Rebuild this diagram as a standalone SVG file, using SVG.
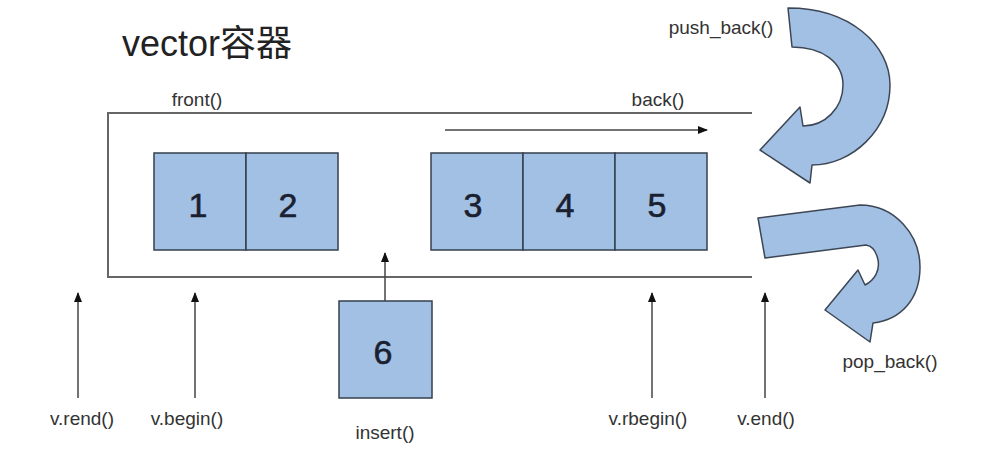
<svg xmlns="http://www.w3.org/2000/svg" width="1000" height="468" viewBox="0 0 1000 468">
<defs>
<marker id="ah" markerWidth="10" markerHeight="8" refX="9" refY="4" orient="auto" markerUnits="userSpaceOnUse">
<path d="M0,0 L10,4 L0,8 Z" fill="#111"/>
</marker>
<style>
.lbl{font-family:"Liberation Sans",Arial,sans-serif;font-size:19px;fill:#333;text-anchor:middle}
.num{font-family:"Liberation Sans",Arial,sans-serif;font-size:34px;fill:#1a2030;text-anchor:middle;stroke:#1a2030;stroke-width:0.6}
.cell{fill:#a1c0e3;stroke:#34404e;stroke-width:1.5}
.frame{fill:none;stroke:#666;stroke-width:2}
.ptr{stroke:#444;stroke-width:1.5;fill:none}
.big{fill:#a1c0e3;stroke:#3c4654;stroke-width:1.5;stroke-linejoin:round}
</style>
</defs>
<rect width="1000" height="468" fill="#fff"/>
<text x="122" y="56" style="font-family:'Liberation Sans','Noto Sans CJK SC',sans-serif;font-size:36px;fill:#222">vector容器</text>
<g id="container">
<path class="frame" d="M752,113 L108,113 L108,277 L752,277"/>
<text class="lbl" x="197" y="106">front()</text>
<text class="lbl" x="658" y="106">back()</text>
</g>
<g id="node1"><rect class="cell" x="154" y="153" width="92" height="97"/><text class="num" x="198" y="217">1</text></g>
<g id="node2"><rect class="cell" x="246" y="153" width="92" height="97"/><text class="num" x="288" y="217">2</text></g>
<g id="node3"><rect class="cell" x="431" y="153" width="92" height="97"/><text class="num" x="473" y="217">3</text></g>
<g id="node4"><rect class="cell" x="523" y="153" width="92" height="97"/><text class="num" x="565" y="217">4</text></g>
<g id="node5"><rect class="cell" x="615" y="153" width="92" height="97"/><text class="num" x="657" y="217">5</text></g>
<g id="node6"><rect class="cell" x="339" y="301" width="93" height="97"/><text class="num" x="383" y="364">6</text><text class="lbl" x="385" y="439">insert()</text></g>
<g id="push_back">
<path class="big" d="M788,8 C850,8 890,45 890,85 C890,130 852,165 812,165 L810,183 L760,150 L800,107 L803,126 C825,126 843,108 843,85 C843,62 822,47 792,47 Z"/>
<text class="lbl" x="721" y="34">push_back()</text>
</g>
<g id="pop_back">
<path class="big" d="M758,218 L860,205 C895,205 920,235 920,267 C920,300 900,320 873,323 L870,342 L825,310 L858,270 L865,285 C875,280 880,270 878,260 C876,250 872,246 866,245 L765,258 Z"/>
<text class="lbl" x="890" y="368">pop_back()</text>
</g>
<g id="connectors">
<line class="ptr" x1="445" y1="130" x2="707" y2="130" marker-end="url(#ah)"/>
<line class="ptr" x1="385" y1="301" x2="385" y2="253" marker-end="url(#ah)"/>
<line class="ptr" x1="78" y1="398" x2="78" y2="293" marker-end="url(#ah)"/>
<line class="ptr" x1="195" y1="398" x2="195" y2="293" marker-end="url(#ah)"/>
<line class="ptr" x1="652" y1="398" x2="652" y2="293" marker-end="url(#ah)"/>
<line class="ptr" x1="765" y1="398" x2="765" y2="293" marker-end="url(#ah)"/>
</g>
<g id="labels">
<text class="lbl" x="82" y="425">v.rend()</text>
<text class="lbl" x="187" y="425">v.begin()</text>
<text class="lbl" x="648" y="425">v.rbegin()</text>
<text class="lbl" x="766" y="425">v.end()</text>
</g>
</svg>
